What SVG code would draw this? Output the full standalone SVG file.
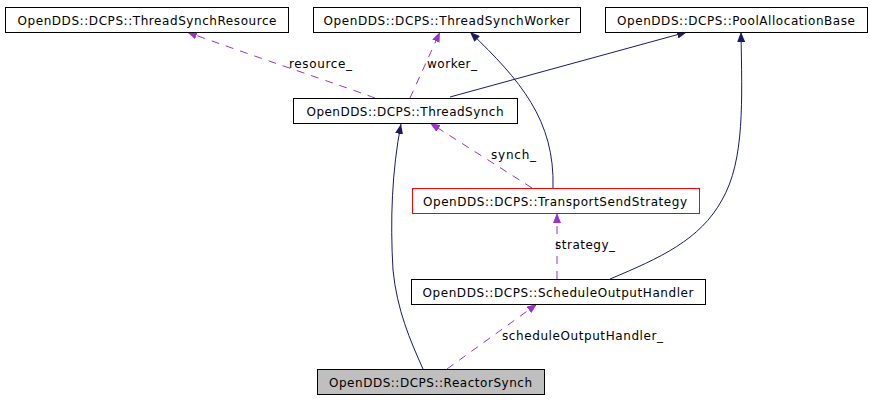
<svg xmlns="http://www.w3.org/2000/svg" width="872" height="400" viewBox="0 0 872 400">
<style>
.box{fill:#fff;stroke:#000;stroke-width:1}
.t{font-family:"DejaVu Sans",sans-serif;font-size:12px;fill:#000;text-anchor:middle}
.l{font-family:"DejaVu Sans",sans-serif;font-size:12px;fill:#000}
.inh{fill:none;stroke:#191970;stroke-width:1;marker-end:url(#an)}
.use{fill:none;stroke:#9a32cd;stroke-width:1;stroke-dasharray:8,7;marker-end:url(#ap)}
</style>
<defs>
<marker id="an" viewBox="0 0 10 8" refX="10" refY="4" markerWidth="10" markerHeight="8" markerUnits="userSpaceOnUse" orient="auto"><path d="M0,0 L10,4 L0,8 z" fill="#191970"/></marker>
<marker id="ap" viewBox="0 0 10 8" refX="10" refY="4" markerWidth="10" markerHeight="8" markerUnits="userSpaceOnUse" orient="auto"><path d="M0,0 L10,4 L0,8 z" fill="#9a32cd"/></marker>
</defs>
<rect width="872" height="400" fill="#fff"/>
<g id="connectors">
<path class="use" d="M375,98 C340,85 250,55 187,32"/>
<path class="use" d="M410,98 L440,32"/>
<path class="inh" d="M450,97 L687,32"/>
<path class="inh" d="M553,188 C555,120 520,80 470,32"/>
<path class="inh" d="M610,279 C660,258 700,240 722,200 C745,160 742,100 741,32"/>
<path class="inh" d="M423,369 C410,340 397,310 393,270 C390,220 392,170 401,124"/>
<path class="use" d="M532,188 L430,123"/>
<path class="use" d="M557,279 L557,213"/>
<path class="use" d="M447,369 L537,304"/>
<text class="l" x="289" y="68" textLength="63">resource_</text>
<text class="l" x="427" y="68" textLength="50">worker_</text>
<text class="l" x="491" y="159" textLength="45">synch_</text>
<text class="l" x="555" y="249" textLength="60">strategy_</text>
<text class="l" x="502" y="340" textLength="161">scheduleOutputHandler_</text>
</g>
<g id="ThreadSynchResource"><rect class="box" x="5.5" y="7.5" width="283" height="25"/><text class="t" x="147" y="25" textLength="259">OpenDDS::DCPS::ThreadSynchResource</text></g>
<g id="ThreadSynchWorker"><rect class="box" x="313.5" y="7.5" width="267" height="25"/><text class="t" x="446.5" y="25" textLength="246">OpenDDS::DCPS::ThreadSynchWorker</text></g>
<g id="PoolAllocationBase"><rect class="box" x="605.5" y="7.5" width="262" height="25"/><text class="t" x="736" y="25" textLength="238">OpenDDS::DCPS::PoolAllocationBase</text></g>
<g id="ThreadSynch"><rect class="box" x="293.5" y="98.5" width="224" height="25"/><text class="t" x="405" y="116" textLength="197">OpenDDS::DCPS::ThreadSynch</text></g>
<g id="TransportSendStrategy"><rect class="box" style="stroke:#ff0000" x="412.5" y="188.5" width="287" height="25"/><text class="t" x="555" y="206" textLength="264">OpenDDS::DCPS::TransportSendStrategy</text></g>
<g id="ScheduleOutputHandler"><rect class="box" x="411.5" y="279.5" width="294" height="25"/><text class="t" x="558" y="297" textLength="271">OpenDDS::DCPS::ScheduleOutputHandler</text></g>
<g id="ReactorSynch"><rect class="box" style="fill:#bfbfbf" x="317.5" y="369.5" width="227" height="25"/><text class="t" x="430.5" y="387" textLength="203">OpenDDS::DCPS::ReactorSynch</text></g>
</svg>
